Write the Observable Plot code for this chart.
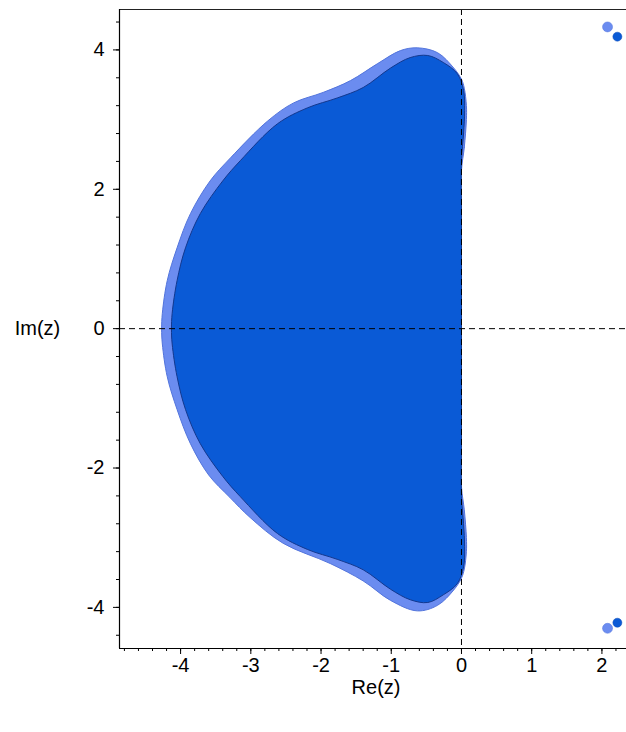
<!DOCTYPE html>
<html>
<head>
<meta charset="utf-8">
<script src="https://cdn.jsdelivr.net/npm/d3@7"></script>
<script src="https://cdn.jsdelivr.net/npm/@observablehq/plot@0.6"></script>
<style>
  html, body { margin: 0; padding: 0; background: #fff; }
  #chart svg { display: block; font-family: "Liberation Sans", Arial, sans-serif; }
</style>
</head>
<body>
<div id="chart"></div>
<script>
// Outer (light) stability region boundary
const lightRe = [0.0, 0.04, 0.07, 0.07, 0.04, 0.0, -0.11, -0.34, -0.63, -0.87, -1.20, -1.58, -1.97, -2.39, -2.76, -3.29, -3.58, -3.86, -4.05, -4.19, -4.26, -4.27,
  -4.26, -4.19, -4.05, -3.86, -3.60, -3.30, -3.01, -2.54, -1.87, -1.40, -1.01, -0.63, -0.34, -0.11, 0.0, 0.04, 0.07, 0.07, 0.04, 0.0,
  0.0, 0.0, 0.0, 0.0, 0.0];
const lightIm = [2.27, 2.6, 3.0, 3.2, 3.45, 3.58, 3.74, 3.96, 4.03, 3.99, 3.80, 3.56, 3.39, 3.24, 2.98, 2.45, 2.12, 1.65, 1.16, 0.69, 0.22, 0.0,
  -0.22, -0.69, -1.16, -1.65, -2.10, -2.42, -2.71, -3.08, -3.37, -3.62, -3.90, -4.05, -3.97, -3.75, -3.58, -3.45, -3.2, -3.0, -2.6, -2.27,
  -1.5, -0.75, 0.0, 0.75, 1.5];

// Inner (dark) stability region boundary
const darkRe = [0.0, 0.03, 0.045, 0.03, -0.06, -0.26, -0.48, -0.73, -1.01, -1.40, -1.77, -2.19, -2.62, -3.15, -3.40, -3.72, -3.93, -4.05, -4.12, -4.13,
  -4.12, -4.05, -3.93, -3.72, -3.40, -3.15, -2.62, -2.19, -1.77, -1.40, -1.01, -0.73, -0.48, -0.26, -0.06, 0.03, 0.045, 0.03, 0.0,
  0.0, 0.0, 0.0, 0.0, 0.0];
const darkIm = [2.41, 2.8, 3.13, 3.42, 3.66, 3.82, 3.92, 3.89, 3.74, 3.46, 3.31, 3.17, 2.94, 2.41, 2.12, 1.65, 1.16, 0.69, 0.22, 0.0,
  -0.22, -0.69, -1.16, -1.65, -2.12, -2.41, -2.94, -3.17, -3.31, -3.46, -3.74, -3.89, -3.93, -3.82, -3.66, -3.42, -3.13, -2.8, -2.41,
  -1.6, -0.8, 0.0, 0.8, 1.6];

// Isolated small regions (dots)
const lightDotRe = [2.08, 2.08];
const lightDotIm = [4.33, -4.30];
const darkDotRe = [2.22, 2.22];
const darkDotIm = [4.19, -4.22];

const xMajor = [-4, -3, -2, -1, 0, 1, 2];
const yMajor = [-4, -2, 0, 2, 4];
const xMinor = d3.range(-48, 23, 2).map(v => v / 10);
const yMinor = d3.range(-44, 45, 4).map(v => v / 10);
const xDomain = [-4.87, 2.35];
const yDomain = [-4.59, 4.58];

const light = lightRe.map((x, i) => ({x, y: lightIm[i]}));
const dark = darkRe.map((x, i) => ({x, y: darkIm[i]}));
const lightDots = lightDotRe.map((x, i) => ({x, y: lightDotIm[i]}));
const darkDots = darkDotRe.map((x, i) => ({x, y: darkDotIm[i]}));

const chart = Plot.plot({
  width: 626,
  height: 732,
  marginLeft: 119,
  marginRight: 0,
  marginTop: 9,
  marginBottom: 84,
  style: {fontSize: "20px", fontFamily: "'Liberation Sans', Arial, sans-serif", color: "#000", background: "#fff"},
  x: {domain: xDomain},
  y: {domain: yDomain},
  marks: [
    Plot.line(light, {x: "x", y: "y", curve: "catmull-rom-closed", fill: "#6b8cf0", stroke: "#5274dc", strokeWidth: 1}),
    Plot.line(dark, {x: "x", y: "y", curve: "catmull-rom-closed", fill: "#0a5ad6", stroke: "#12388f", strokeWidth: 1}),
    Plot.dot(lightDots, {x: "x", y: "y", r: 5, fill: "#6b8cf0", stroke: "#5274dc", strokeWidth: 0.5}),
    Plot.dot(darkDots, {x: "x", y: "y", r: 4.5, fill: "#0a5ad6", stroke: "#0a4ab8", strokeWidth: 0.5}),
    Plot.ruleX([0], {stroke: "#000", strokeDasharray: "6,4", strokeWidth: 1}),
    Plot.ruleY([0], {stroke: "#000", strokeDasharray: "6,4", strokeWidth: 1}),
    Plot.ruleY([yDomain[1]], {stroke: "#222", strokeWidth: 1.2}),
    Plot.ruleY([yDomain[0]], {stroke: "#000", strokeWidth: 1.2}),
    Plot.ruleX([xDomain[0]], {stroke: "#000", strokeWidth: 1.2}),
    Plot.axisX({ticks: xMinor, tickSize: 3, text: null, label: null, stroke: "#000"}),
    Plot.axisX({ticks: xMajor, tickSize: 6, tickPadding: 3, tickFormat: d => String(d), label: null, fontSize: 20, stroke: "#000"}),
    Plot.axisY({ticks: yMinor, tickSize: 3, text: null, label: null, stroke: "#000"}),
    Plot.axisY({ticks: yMajor, tickSize: 6, tickPadding: 9, tickFormat: d => String(d), label: null, fontSize: 20, stroke: "#000"}),
    Plot.text(["Im(z)"], {frameAnchor: "left", dx: -82, text: d => d, fontSize: 20, textAnchor: "middle", fill: "#000"}),
    Plot.text(["Re(z)"], {frameAnchor: "bottom", dx: 3, dy: 45, text: d => d, fontSize: 20, textAnchor: "middle", fill: "#000"})
  ]
});
document.getElementById("chart").appendChild(chart);
</script>
</body>
</html>
